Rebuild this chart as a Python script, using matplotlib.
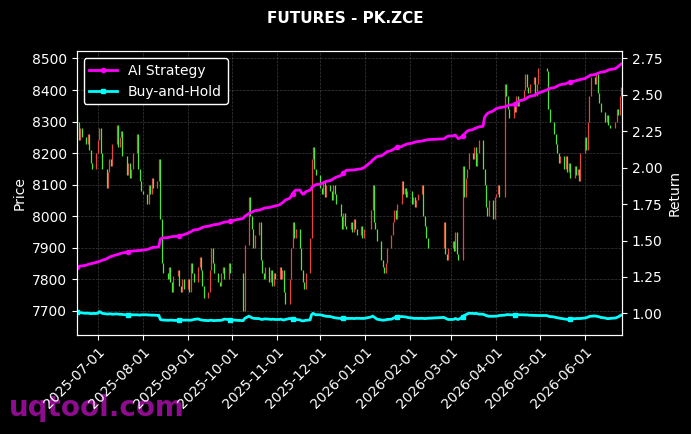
import numpy as np
import pandas as pd
import matplotlib
matplotlib.use("Agg")
import matplotlib.pyplot as plt
import matplotlib.dates as mdates

# trading calendar (exchange holidays removed)
holidays = ["2025-10-01", "2025-10-02", "2025-10-03", "2025-10-06", "2025-10-07", "2025-10-08",
            "2026-01-01", "2026-01-02",
            "2026-02-16", "2026-02-17", "2026-02-18", "2026-02-19", "2026-02-20", "2026-02-23",
            "2026-04-06", "2026-05-01", "2026-05-04", "2026-05-05", "2026-06-19"]

# daily closes, month by month
close_jun = [8300, 8240, 8280, 8250, 8230, 8260, 8210, 8170, 8150, 8200]
close_jul = [8240, 8280, 8200, 8150,
             8090, 8140, 8180, 8160, 8230,
             8290, 8220, 8250, 8270, 8190,
             8130, 8170, 8120, 8150, 8200,
             8260, 8150, 8110, 8080]
close_aug = [8070,
             8040, 8100, 8070, 8120, 8090,
             8110, 8180, 7990, 7850, 7820,
             7800, 7840, 7790, 7760, 7810,
             7830, 7780, 7760, 7800, 7770]
close_sep = [7800, 7760, 7850, 7820, 7790,
             7840, 7870, 7830, 7780, 7740,
             7760, 7830, 7900, 7850, 7820,
             7790, 7780, 7820, 7840, 7800,
             7850, 7820]
close_oct = [7700, 7910,
             8060, 8000, 7960, 7900, 7940,
             7980, 7860, 7820, 7800, 7840,
             7790, 7830, 7780, 7820, 7800]
close_nov = [7840, 7800, 7830, 7760, 7720,
             7800, 7900, 7980, 7930, 7960,
             7900, 7830, 7790, 7770, 7820,
             7930, 8180, 8220, 8150, 8130]
close_dec = [8090, 8070, 8110, 8060, 8100,
             8080, 8050, 8100, 8070, 8040,
             8000, 7960, 8010, 7970, 7960,
             7980, 7950, 7990, 7960, 7940,
             7970, 7930, 7960]
close_jan = [8020, 8100, 7980, 7960, 7920,
             7860, 7840, 7820, 7850, 7900,
             7940, 7980, 8020, 7990, 8040,
             8110, 8070, 8090, 8060, 8080]
close_feb = [8040, 8060, 8030, 8050, 8070,
             8100, 8000, 7970, 7930, 7900,
             7980, 7880, 7860, 7900]
close_mar = [7920, 7890, 7950, 7880, 7860,
             8160, 8060, 8120, 8150, 8200,
             8180, 8220, 8160, 8200, 8240,
             8150, 8100, 8030, 8000, 8050,
             7990, 8060]
close_apr = [8070, 8100, 8060,
             8420, 8380, 8340, 8310,
             8360, 8330, 8380, 8350, 8370,
             8400, 8450, 8410, 8390, 8420,
             8440, 8380, 8420, 8470]
close_may = [8460, 8340, 8300,
             8260, 8230, 8200, 8170, 8190,
             8150, 8190, 8140, 8170, 8120,
             8160, 8130, 8150, 8110, 8200]
close_jun26 = [8250, 8210, 8300, 8380, 8440,
               8420, 8450, 8390, 8360, 8330,
               8300, 8320, 8290, 8280,
               8300, 8340, 8320, 8380, 8410]

# AI strategy cumulative return
strat_jun = [1.32, 1.322, 1.325, 1.326, 1.33, 1.335, 1.338, 1.34, 1.342, 1.35]
strat_jul = [1.352, 1.356, 1.36, 1.364, 1.374, 1.38, 1.386, 1.39, 1.394, 1.402, 1.405, 1.408,
             1.412, 1.415, 1.42, 1.423, 1.425, 1.427, 1.428, 1.43, 1.431, 1.432, 1.433]
strat_aug = [1.434, 1.438, 1.442, 1.446, 1.45, 1.453, 1.455, 1.458, 1.51, 1.515, 1.518,
             1.52, 1.522, 1.525, 1.526, 1.528, 1.53, 1.532, 1.535, 1.537, 1.54]
strat_sep = [1.55, 1.556, 1.56, 1.566, 1.572, 1.576, 1.58, 1.585, 1.59, 1.594, 1.598,
             1.6, 1.604, 1.606, 1.609, 1.612, 1.616, 1.62, 1.623, 1.626, 1.63, 1.634]
strat_oct = [1.652, 1.665, 1.686, 1.69, 1.695, 1.7, 1.705, 1.709, 1.712, 1.716, 1.72, 1.724,
             1.727, 1.73, 1.732, 1.735, 1.737]
strat_nov = [1.745, 1.752, 1.76, 1.768, 1.778, 1.79, 1.805, 1.82, 1.835, 1.845,
             1.846, 1.83, 1.818, 1.82, 1.835, 1.846, 1.86, 1.872, 1.878, 1.884]
strat_dec = [1.888, 1.892, 1.896, 1.9, 1.906, 1.912, 1.918, 1.924, 1.93, 1.935,
             1.945, 1.955, 1.965, 1.975, 1.982, 1.983, 1.984, 1.985, 1.986, 1.988,
             1.992, 1.996, 2.0]
strat_jan = [2.04, 2.052, 2.06, 2.068, 2.076, 2.082, 2.088, 2.095, 2.102, 2.11,
             2.118, 2.124, 2.13, 2.136, 2.14, 2.145, 2.152, 2.156, 2.16, 2.164]
strat_feb = [2.168, 2.172, 2.175, 2.178, 2.18, 2.183, 2.186, 2.188, 2.19, 2.193,
             2.198, 2.205, 2.212, 2.217]
strat_mar = [2.218, 2.222, 2.224, 2.21, 2.2, 2.215, 2.23, 2.24, 2.25, 2.256,
             2.262, 2.268, 2.272, 2.276, 2.28, 2.285, 2.345, 2.36, 2.372, 2.378,
             2.39, 2.398]
strat_apr = [2.405, 2.408, 2.412, 2.418, 2.422, 2.426, 2.43, 2.434, 2.438, 2.445, 2.452, 2.46,
             2.466, 2.472, 2.478, 2.484, 2.49, 2.496, 2.502, 2.508, 2.512]
strat_may = [2.535, 2.54, 2.545, 2.55, 2.555, 2.56, 2.565, 2.57, 2.575, 2.578, 2.582, 2.586, 2.59,
             2.594, 2.598, 2.6, 2.603, 2.606]
strat_jun26 = [2.612, 2.618, 2.624, 2.63, 2.636, 2.64, 2.644, 2.648, 2.652, 2.656,
               2.66, 2.665, 2.67, 2.674, 2.68, 2.688, 2.696, 2.704, 2.712]

# buy-and-hold cumulative return
bh_jun = [1.008, 1.006, 1.005, 1.003, 1.0, 1.002, 1.0, 0.998, 0.999, 1.0]
bh_jul = [1.0, 1.012, 1.008, 1.0, 0.996, 0.995, 0.997, 0.996, 0.994, 0.996, 0.995, 0.993,
          0.994, 0.992, 0.99, 0.992, 0.991, 0.99, 0.99, 0.99, 0.989, 0.988, 0.99]
bh_aug = [0.99, 0.99, 0.988, 0.989, 0.987, 0.988, 0.986, 0.987, 0.958, 0.955, 0.954,
          0.953, 0.952, 0.954, 0.953, 0.952, 0.951, 0.952, 0.954, 0.955, 0.953]
bh_sep = [0.954, 0.952, 0.953, 0.955, 0.958, 0.962, 0.958, 0.955, 0.953, 0.952, 0.95,
          0.952, 0.953, 0.951, 0.95, 0.952, 0.951, 0.953, 0.956, 0.96, 0.958, 0.955]
bh_oct = [0.95, 0.965, 0.981, 0.975, 0.97, 0.966, 0.965, 0.964, 0.96, 0.958, 0.96, 0.962,
          0.96, 0.958, 0.96, 0.959, 0.958]
bh_nov = [0.958, 0.96, 0.956, 0.954, 0.958, 0.965, 0.963, 0.96, 0.962, 0.958,
          0.955, 0.95, 0.948, 0.95, 0.952, 0.955, 0.99, 1.0, 0.995, 0.99]
bh_dec = [0.99, 0.988, 0.985, 0.982, 0.98, 0.978, 0.975, 0.972, 0.97, 0.968,
          0.965, 0.962, 0.966, 0.968, 0.965, 0.965, 0.966, 0.964, 0.965, 0.966,
          0.965, 0.964, 0.965]
bh_jan = [0.975, 0.981, 0.975, 0.968, 0.96, 0.955, 0.953, 0.954, 0.955, 0.958,
          0.96, 0.965, 0.97, 0.975, 0.976, 0.978, 0.977, 0.976, 0.975, 0.972]
bh_feb = [0.968, 0.966, 0.965, 0.966, 0.965, 0.966, 0.965, 0.964, 0.965, 0.966,
          0.972, 0.968, 0.962, 0.958]
bh_mar = [0.958, 0.96, 0.965, 0.96, 0.958, 0.975, 0.985, 0.99, 0.995, 1.0,
          1.0, 0.998, 1.0, 0.998, 0.995, 0.994, 0.99, 0.986, 0.982, 0.98,
          0.98, 0.981]
bh_apr = [0.98, 0.982, 0.985, 0.988, 0.99, 0.992, 0.99, 0.99, 0.988, 0.99, 0.992, 0.99,
          0.99, 0.988, 0.99, 0.988, 0.987, 0.986, 0.985, 0.986, 0.985]
bh_may = [0.985, 0.98, 0.978, 0.975, 0.972, 0.97, 0.968, 0.966, 0.962, 0.96, 0.958, 0.96, 0.962,
          0.963, 0.964, 0.965, 0.964, 0.965]
bh_jun26 = [0.968, 0.97, 0.974, 0.978, 0.98, 0.982, 0.98, 0.978, 0.976, 0.972,
            0.968, 0.965, 0.963, 0.965, 0.968, 0.972, 0.976, 0.982, 0.988]

closes = np.array(close_jun + close_jul + close_aug + close_sep + close_oct + close_nov + close_dec
                  + close_jan + close_feb + close_mar + close_apr + close_may + close_jun26, dtype=float)
strategy = np.array(strat_jun + strat_jul + strat_aug + strat_sep + strat_oct + strat_nov + strat_dec
                    + strat_jan + strat_feb + strat_mar + strat_apr + strat_may + strat_jun26)
buyhold = np.array(bh_jun + bh_jul + bh_aug + bh_sep + bh_oct + bh_nov + bh_dec
                   + bh_jan + bh_feb + bh_mar + bh_apr + bh_may + bh_jun26)

dates = pd.bdate_range("2025-06-17", "2026-06-26")
dates = dates[~dates.isin(pd.to_datetime(holidays))]
n = min(len(dates), len(closes), len(strategy), len(buyhold))
dates, closes, strategy, buyhold = dates[:n], closes[:n], strategy[:n], buyhold[:n]

opens = np.concatenate([[8320.0], closes[:-1]])
up = closes >= opens

plt.style.use("dark_background")
fig = plt.figure(figsize=(6.91, 4.34), dpi=100)
ax1 = fig.add_axes([0.111, 0.228, 0.789, 0.654])
ax2 = ax1.twinx()

x = mdates.date2num(dates)
ax1.vlines(x[up], opens[up], closes[up], color="#ff4a4a", linewidth=0.9, alpha=0.9)
ax1.vlines(x[~up], opens[~up], closes[~up], color="#55ff44", linewidth=0.9, alpha=0.9)

l1, = ax2.plot(dates, strategy, color="#ff00ff", linewidth=2, marker="o", markersize=3,
               markevery=25, label="AI Strategy")
l2, = ax2.plot(dates, buyhold, color="#00ffff", linewidth=2, marker="s", markersize=3,
               markevery=25, label="Buy-and-Hold")

ax1.set_xlim(x[0] - 0.5, x[-1] + 0.5)
ax1.set_ylim(7623, 8523)
ax2.set_ylim(0.851, 2.80)
ax2.set_yticks([1.0, 1.25, 1.5, 1.75, 2.0, 2.25, 2.5, 2.75])
ax2.yaxis.set_major_formatter(matplotlib.ticker.FormatStrFormatter("%.2f"))

ax1.xaxis.set_major_locator(mdates.MonthLocator(bymonthday=1))
ax1.xaxis.set_major_formatter(mdates.DateFormatter("%Y-%m-%d"))
plt.setp(ax1.get_xticklabels(), rotation=45, ha="right", rotation_mode="anchor")

ax1.grid(True, linestyle="--", linewidth=0.5, color="gray", alpha=0.45)
ax1.set_ylabel("Price")
ax2.set_ylabel("Return")

leg = ax1.legend([l1, l2], ["AI Strategy", "Buy-and-Hold"], loc="upper left",
                 facecolor="black", edgecolor="white", framealpha=1)
leg.set_zorder(10)

fig.suptitle("FUTURES - PK.ZCE", fontsize=11, fontweight="bold", color="white", y=0.975)
fig.text(0.013, 0.06, "uqtool.com", fontsize=20, fontweight="bold", color="#8e0c8e",
         ha="left", va="center", zorder=-1)

fig.savefig("out.png", dpi=100, facecolor="black")
